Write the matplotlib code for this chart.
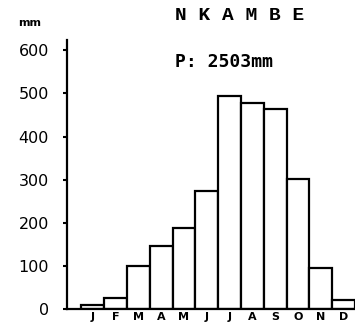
import matplotlib
matplotlib.use("Agg")
import matplotlib.pyplot as plt

months = ["J", "F", "M", "A", "M", "J", "J", "A", "S", "O", "N", "D"]
rain_mm = [9, 25, 100, 147, 189, 274, 495, 479, 463, 301, 94, 21]
yticks = [0, 100, 200, 300, 400, 500, 600]
station = "N K A M B E"
total_label = "P: 2503mm"

fig = plt.figure(figsize=(3.55, 3.24), dpi=100)
ax = fig.add_axes([67/355, 1-309/324, 1-67/355, (309-40)/324])

x = list(range(len(months)))
ax.bar(x, rain_mm, width=1.0, color="white", edgecolor="black", linewidth=1.6)

ax.set_xlim(-1.13, 11.5)
ax.set_ylim(0, 624)
ax.set_yticks(yticks)
ax.set_yticklabels([str(v) for v in yticks], fontsize=11.5, family="DejaVu Sans")
ax.set_xticks(x)
ax.set_xticklabels(months, fontsize=8, fontweight="bold", family="DejaVu Sans")
ax.tick_params(axis="x", length=0, pad=2)
ax.tick_params(axis="y", direction="out", length=3, width=1.5, pad=10)
for s in ["top", "right"]:
    ax.spines[s].set_visible(False)
ax.spines["left"].set_linewidth(1.6)
ax.spines["bottom"].set_linewidth(1.6)

fig.text(175/355, 1-15/324, station, fontsize=14, fontweight="bold",
         family="Liberation Mono", ha="left", va="center")
fig.text(175/355, 1-62/324, total_label, fontsize=13, fontweight="bold",
         family="DejaVu Sans Mono", ha="left", va="center")
fig.text(18/355, 1-23/324, "mm", fontsize=8, fontweight="bold",
         family="DejaVu Sans", ha="left", va="center")

fig.savefig("out.png", dpi=100)
